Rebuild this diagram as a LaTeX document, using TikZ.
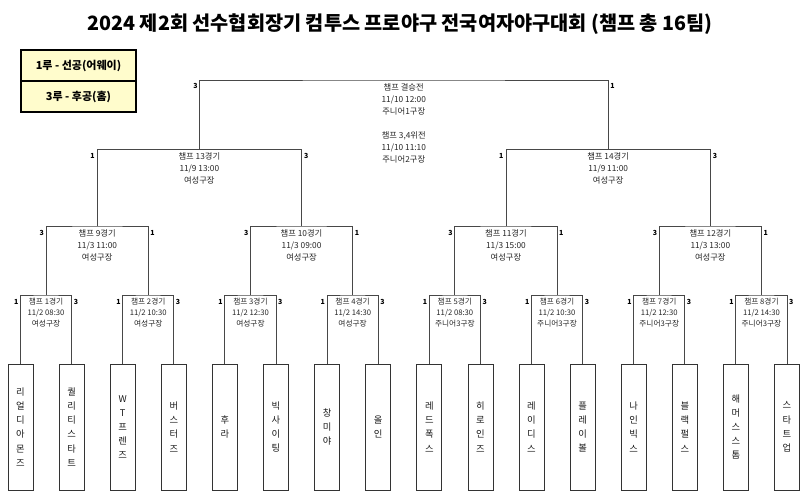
\documentclass[tikz,border=0pt]{standalone}
\usepackage{fontspec}
\setmainfont{Noto Sans CJK KR}
\begin{document}
\begin{tikzpicture}[x=1pt,y=-1pt,
  br/.style={draw=black!72,line width=0.9pt},
  team/.style={draw=black!80,line width=0.8pt,minimum width=25pt,minimum height=126pt,inner sep=0pt,align=center,font=\fontsize{9.3}{14.2}\selectfont,text=black!90},
  info/.style={anchor=north,inner sep=0pt,align=center,font=\fontsize{8.3}{12}\selectfont,text=black!85},
  infoa/.style={anchor=north,inner sep=0pt,align=center,font=\fontsize{7.7}{11}\selectfont,text=black!85},
  sc/.style={inner sep=0pt,font=\fontsize{7}{8}\selectfont\bfseries},
  legendbox/.style={draw=black,line width=1.1pt,fill=yellow!20,minimum width=115pt,minimum height=31pt,inner sep=0pt,font=\fontsize{11}{12}\selectfont\bfseries}]
\useasboundingbox (0,0) rectangle (800,491);
% title
\node[inner sep=0pt,font=\fontsize{19.7}{21}\selectfont\bfseries] (title) at (400,24) {2024 제2회 선수협회장기 컴투스 프로야구 전국여자야구대회 (챔프 총 16팀)};
% legend
\node[legendbox] (leg1) at (78.5,65.5) {1루 - 선공(어웨이)};
\node[legendbox] (leg2) at (78.5,96.5) {3루 - 후공(홈)};
% teams
\node[team] (t0) at (20.5,427) {리\\얼\\디\\아\\몬\\즈};
\node[team] (t1) at (71.6,427) {퀄\\리\\티\\스\\타\\트};
\node[team] (t2) at (122.7,427) {W\\T\\프\\렌\\즈};
\node[team] (t3) at (173.8,427) {버\\스\\터\\즈};
\node[team] (t4) at (224.9,427) {후\\라};
\node[team] (t5) at (276.0,427) {빅\\사\\이\\팅};
\node[team] (t6) at (327.1,427) {창\\미\\야};
\node[team] (t7) at (378.2,427) {올\\인};
\node[team] (t8) at (429.3,427) {레\\드\\폭\\스};
\node[team] (t9) at (480.4,427) {히\\로\\인\\즈};
\node[team] (t10) at (531.5,427) {레\\이\\디\\스};
\node[team] (t11) at (582.6,427) {플\\레\\이\\볼};
\node[team] (t12) at (633.7,427) {나\\인\\빅\\스};
\node[team] (t13) at (684.8,427) {블\\랙\\펄\\스};
\node[team] (t14) at (735.9,427) {해\\머\\스\\스\\톰};
\node[team] (t15) at (787.0,427) {스\\타\\트\\업};
% round 1
\foreach \gn/\tmm/\plc in {1/08:30/여성구장,2/10:30/여성구장,3/12:30/여성구장,4/14:30/여성구장,5/08:30/주니어3구장,6/10:30/주니어3구장,7/12:30/주니어3구장,8/14:30/주니어3구장}{
  \pgfmathsetmacro{\cx}{46.05+102.2*(\gn-1)}
  \pgfmathtruncatemacro{\tia}{2*(\gn-1)}
  \pgfmathtruncatemacro{\tib}{2*(\gn-1)+1}
  \coordinate (g\gn) at (\cx,295);
  \draw[br] (t\tia.north) |- (g\gn) -| (t\tib.north);
  \node[infoa] (i\gn) at (\cx,298) {챔프 {\gn}경기\\11/2 {\tmm}\\{\plc}};
  \node[sc,anchor=east] (sl\gn) at (\cx-27.5,302) {1};
  \node[sc,anchor=west] (sr\gn) at (\cx+27.5,302) {3};
}
% round 2
\foreach \gn/\dd in {9/11:00,10/09:00,11/15:00,12/13:00}{
  \pgfmathsetmacro{\cx}{97.15+204.4*(\gn-9)}
  \pgfmathtruncatemacro{\ga}{2*(\gn-9)+1}
  \pgfmathtruncatemacro{\gb}{2*(\gn-9)+2}
  \coordinate (g\gn) at (\cx,226);
  \draw[br] (g\ga) |- (g\gn) -| (g\gb);
  \node[info] (i\gn) at (\cx,229) {챔프 {\gn}경기\\11/3 {\dd}\\여성구장};
  \node[sc,anchor=east] (sl\gn) at (\cx-53,233) {3};
  \node[sc,anchor=west] (sr\gn) at (\cx+53,233) {1};
}
% round 3
\foreach \gn/\dd in {13/13:00,14/11:00}{
  \pgfmathsetmacro{\cx}{199.35+408.8*(\gn-13)}
  \pgfmathtruncatemacro{\ga}{2*(\gn-13)+9}
  \pgfmathtruncatemacro{\gb}{2*(\gn-13)+10}
  \coordinate (g\gn) at (\cx,149.3);
  \draw[br] (g\ga) |- (g\gn) -| (g\gb);
  \node[info] (i\gn) at (\cx,152.3) {챔프 {\gn}경기\\11/9 {\dd}\\여성구장};
  \node[sc,anchor=east] (sl\gn) at (\cx-104.5,156) {1};
  \node[sc,anchor=west] (sr\gn) at (\cx+104.5,156) {3};
}
% final
\coordinate (gf) at (403.75,80);
\draw[br] (g13) |- (gf) -| (g14);
\node[info] (ifin) at (403.75,83) {챔프 결승전\\11/10 12:00\\주니어1구장\\[12pt]챔프 3,4위전\\11/10 11:10\\주니어2구장};
\node[sc,anchor=east] (slf) at (197.85,86) {3};
\node[sc,anchor=west] (srf) at (610.15,86) {1};
\end{tikzpicture}
\end{document}
